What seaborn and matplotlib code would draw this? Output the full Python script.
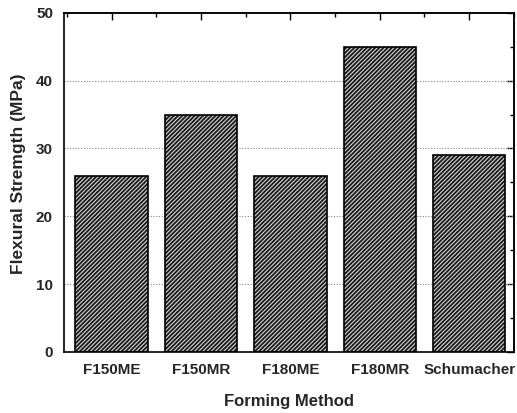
import matplotlib
matplotlib.use("Agg")
import matplotlib.pyplot as plt
from matplotlib.patches import Rectangle
from matplotlib.ticker import MultipleLocator, NullFormatter
import seaborn as sns
import pandas as pd

methods = ["F150ME", "F150MR", "F180ME", "F180MR", "Schumacher"]
strength = [26, 35, 26, 45, 29]
y_ticks = [0, 10, 20, 30, 40, 50]

sns.set_theme(style="white")
plt.rcParams["font.family"] = ["Liberation Sans", "DejaVu Sans"]
plt.rcParams["font.weight"] = "bold"
plt.rcParams["hatch.linewidth"] = 0.9

df = pd.DataFrame({"method": methods, "strength": strength})

fig = plt.figure(figsize=(5.17, 4.13), dpi=100)
ax = fig.add_axes([0.124, 0.148, 0.870, 0.821])

sns.barplot(data=df, x="method", y="strength", color="black", width=0.81,
            ax=ax, zorder=2)

# dense diagonal hatching: dark fill with light hatch lines, black outline on top
for p in list(ax.patches):
    p.set_facecolor("#151515")
    p.set_edgecolor("#c8c8c8")
    p.set_hatch("////////")
    p.set_linewidth(0)
    outline = Rectangle(p.get_xy(), p.get_width(), p.get_height(),
                        fill=False, edgecolor="black", linewidth=1.2, zorder=3)
    ax.add_patch(outline)

ax.set_ylim(0, 50)
ax.set_xlim(-0.53, 4.49)
ax.set_yticks(y_ticks)
ax.yaxis.set_minor_locator(MultipleLocator(5))
ax.set_xticks(range(len(methods)))
minor_x = [i + 0.5 for i in range(-1, len(methods))]
ax.set_xticks(minor_x, minor=True)

for y in y_ticks[1:-1]:
    ax.axhline(y, color="#888888", linestyle=(0, (1, 1.5)), linewidth=0.8, zorder=1)

for s in ax.spines.values():
    s.set_color("black")
    s.set_linewidth(1.2)

ax.tick_params(axis="both", which="major", direction="out", length=5, width=1,
               color="black", labelsize=11, pad=3)
ax.tick_params(axis="both", which="minor", direction="out", length=3, width=1,
               color="black")

# mirrored ticks on top and right point inward
top = ax.secondary_xaxis("top")
top.set_xticks(range(len(methods)))
top.set_xticks(minor_x, minor=True)
top.xaxis.set_major_formatter(NullFormatter())
top.tick_params(which="major", direction="in", length=5, width=1, color="black")
top.tick_params(which="minor", direction="in", length=3, width=1, color="black")
top.spines["top"].set_linewidth(1.2)

right = ax.secondary_yaxis("right")
right.set_yticks(y_ticks)
right.yaxis.set_minor_locator(MultipleLocator(5))
right.yaxis.set_major_formatter(NullFormatter())
right.tick_params(which="major", direction="in", length=5, width=1, color="black")
right.tick_params(which="minor", direction="in", length=3, width=1, color="black")
right.spines["right"].set_linewidth(1.2)

for lab in ax.get_xticklabels() + ax.get_yticklabels():
    lab.set_fontweight("bold")

ax.set_xlabel("Forming Method", fontsize=12, fontweight="bold", labelpad=12)
ax.set_ylabel("Flexural Stremgth (MPa)", fontsize=12.5, fontweight="bold")
ax.yaxis.set_label_coords(-0.084, 0.525)

fig.savefig("out.png", dpi=100, facecolor="white")
